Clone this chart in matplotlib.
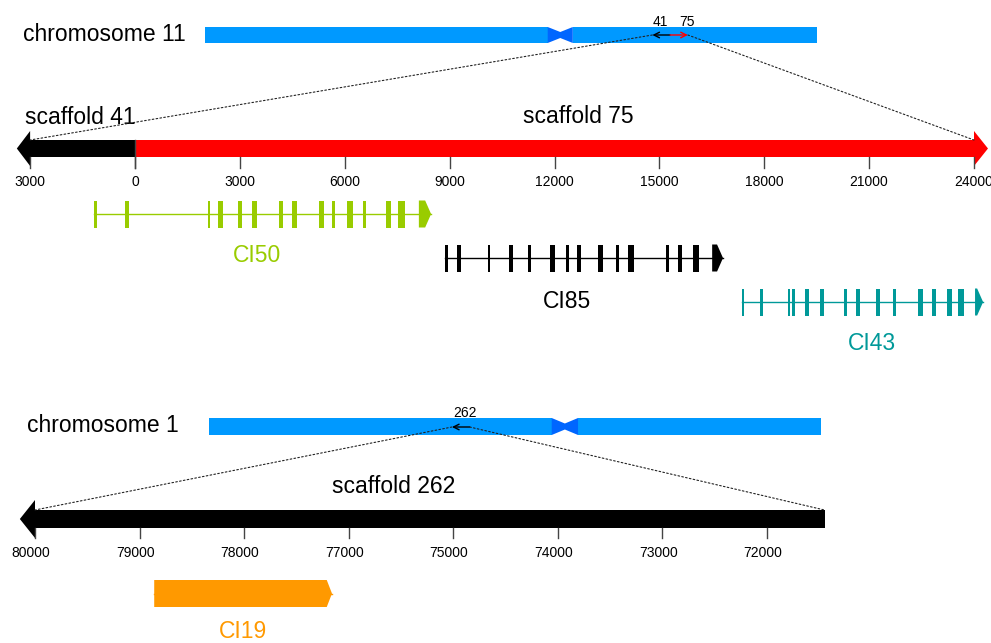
import numpy as np
import matplotlib
matplotlib.use('Agg')
import matplotlib.pyplot as plt
from matplotlib.patches import Polygon, Rectangle, ConnectionPatch

plt.rcParams['font.family'] = ['Liberation Sans', 'DejaVu Sans']

W, H = 991, 643

# chromosomes, positions as fraction of length
cen_11 = (0.560, 0.601)
cen_1 = (0.560, 0.603)
mark_11 = 0.760          # junction of scaffold 41 / 75
mark_1 = 0.426           # scaffold 262
mark_len = 0.029

# top scaffolds (bp); scaffold 41 runs backwards from 0
sc41 = (-3000, 0)
sc75 = (0, 24000)
top_ticks = np.arange(-3000, 24001, 3000)
top_tick_labels = [str(abs(t)) for t in top_ticks]

# bottom scaffold (bp, reversed)
sc262 = (80000, 72450)
bot_ticks = 80000 - 1000 * np.arange(8)
bot_tick_labels = ['80000', '79000', '78000', '77000', '75000', '74000', '73000', '72000']

# exons (start, end) in bp; the last one carries the arrow head
ci50_exons = [(-1170, -1090), (-290, -170), (2090, 2150), (2370, 2520), (2950, 3060),
              (3350, 3490), (4120, 4230), (4490, 4630), (5260, 5410), (5640, 5720),
              (6060, 6240), (6520, 6610), (7180, 7320), (7520, 7720), (8120, 8470)]
ci85_exons = [(8870, 8950), (9210, 9330), (10100, 10160), (10700, 10810), (11240, 11330),
              (11870, 12020), (12330, 12420), (12640, 12760), (13250, 13390), (13760, 13850),
              (14100, 14270), (15190, 15280), (15530, 15650), (15960, 16130), (16510, 16820)]
ci43_exons = [(17360, 17420), (17880, 17970), (18680, 18740), (18790, 18880), (19170, 19290),
              (19600, 19720), (20280, 20370), (20630, 20740), (21200, 21310), (21680, 21770),
              (22400, 22540), (22800, 22910), (23230, 23370), (23540, 23710), (24030, 24260)]
ci19 = (78860, 77160)

BLUE = '#0099ff'
CEN = '#0066ff'
GREEN = '#99cc00'
TEAL = '#009999'
ORANGE = '#ff9900'

fig = plt.figure(figsize=(W / 100, H / 100), dpi=100)
base = fig.add_axes([0, 0, 1, 1], label='base')
base.set_xlim(0, W)
base.set_ylim(H, 0)
base.axis('off')


def track(name, v0, p0, v1, p1):
    ax = fig.add_axes([0, 0, 1, 1], label=name)
    s = (p1 - p0) / (v1 - v0)
    left = v0 - p0 / s
    ax.set_xlim(left, left + W / s)
    ax.set_ylim(H, 0)
    ax.axis('off')
    ax.patch.set_visible(False)
    return ax


ax_c11 = track('c11', 0, 205, 1, 817)
ax_c1 = track('c1', 0, 209, 1, 821)
ax_top = track('top', 0, 135, 24000, 974)
ax_bot = track('bot', 80000, 35, 73000, 767)


def chromosome(ax, cen, y0, y1):
    ax.add_patch(Rectangle((0, y0), cen[0], y1 - y0, color=BLUE, lw=0))
    ax.add_patch(Rectangle((cen[1], y0), 1 - cen[1], y1 - y0, color=BLUE, lw=0))
    mid = (cen[0] + cen[1]) / 2
    ym = (y0 + y1) / 2
    ax.add_patch(Polygon([(cen[0], y0), (mid, ym - 3), (cen[1], y0), (cen[1], y1),
                          (mid, ym + 3), (cen[0], y1)], closed=True, color=CEN, lw=0))


def gene(ax, exons, y, color, h=27, head=170):
    ax.plot([exons[0][0], exons[-1][1]], [y, y], color=color, lw=1.0)
    for s, e in exons[:-1]:
        ax.add_patch(Rectangle((s, y - h / 2), e - s, h, color=color, lw=0))
    s, e = exons[-1]
    d = np.sign(e - s)
    b = e - d * head
    ax.add_patch(Polygon([(s, y - h / 2), (b, y - h / 2), (e, y), (b, y + h / 2), (s, y + h / 2)],
                         closed=True, color=color, lw=0))


def connect(axa, xa, ya, axb, xb, yb):
    fig.add_artist(ConnectionPatch((xa, ya), (xb, yb), coordsA=axa.transData, coordsB=axb.transData,
                                   ls=(0, (1.5, 2)), lw=0.8, color='#222222'))


# ---- top panel ----
chromosome(ax_c11, cen_11, 27, 43)
base.text(23, 41, 'chromosome 11', fontsize=16.5, va='baseline', ha='left')

ax_c11.annotate('', xy=(mark_11 - mark_len, 35), xytext=(mark_11, 35),
                arrowprops=dict(arrowstyle='->', color='k', lw=1, shrinkA=0, shrinkB=0))
ax_c11.annotate('', xy=(mark_11 + mark_len, 35), xytext=(mark_11, 35),
                arrowprops=dict(arrowstyle='->', color='red', lw=1, shrinkA=0, shrinkB=0))
ax_c11.text(mark_11 - 0.016, 26, '41', fontsize=10, ha='center', va='baseline')
ax_c11.text(mark_11 + 0.028, 26, '75', fontsize=10, ha='center', va='baseline')

# scaffold bars
y0, y1 = 140, 157
hl = 380
ax_top.add_patch(Rectangle((sc41[0], y0), sc41[1] - sc41[0], y1 - y0, color='k', lw=0))
ax_top.add_patch(Polygon([(sc41[0], 131), (sc41[0] - hl, 148.5), (sc41[0], 166)], color='k', lw=0))
ax_top.add_patch(Rectangle((sc75[0], y0), sc75[1] - sc75[0], y1 - y0, color='red', lw=0))
ax_top.add_patch(Polygon([(sc75[1], 131), (sc75[1] + 400, 148.5), (sc75[1], 166)], color='red', lw=0))
ax_top.plot([0, 0], [y0, 168], color='#444444', lw=1)
for t, lab in zip(top_ticks, top_tick_labels):
    ax_top.plot([t, t], [y1, 168], color='#444444', lw=1)
    ax_top.text(t, 186, lab, fontsize=10, ha='center', va='baseline')
ax_top.text(-1573, 124, 'scaffold 41', fontsize=16.5, ha='center', va='baseline')
ax_top.text(12673, 123, 'scaffold 75', fontsize=16.5, ha='center', va='baseline')

connect(ax_c11, mark_11 - mark_len, 35, ax_top, sc41[0], y0)
connect(ax_c11, mark_11 + mark_len, 35, ax_top, sc75[1], y0)

gene(ax_top, ci50_exons, 214, GREEN)
gene(ax_top, ci85_exons, 258, 'k')
gene(ax_top, ci43_exons, 302, TEAL)
ax_top.text(3490, 262, 'CI50', fontsize=16.5, ha='center', va='baseline', color=GREEN)
ax_top.text(12358, 308, 'CI85', fontsize=16.5, ha='center', va='baseline', color='k')
ax_top.text(21083, 350, 'CI43', fontsize=16.5, ha='center', va='baseline', color=TEAL)

# ---- bottom panel ----
chromosome(ax_c1, cen_1, 418, 435)
base.text(27, 432, 'chromosome 1', fontsize=16.5, va='baseline', ha='left')
ax_c1.annotate('', xy=(mark_1 - mark_len, 427), xytext=(mark_1, 427),
               arrowprops=dict(arrowstyle='->', color='k', lw=1, shrinkA=0, shrinkB=0))
ax_c1.text(mark_1 - 0.008, 417, '262', fontsize=10, ha='center', va='baseline')

b0, b1 = 510, 528
ax_bot.add_patch(Rectangle((sc262[1], b0), sc262[0] - sc262[1], b1 - b0, color='k', lw=0))
ax_bot.add_patch(Polygon([(sc262[0], 500), (sc262[0] + 145, 519), (sc262[0], 538)], color='k', lw=0))
for t, lab in zip(bot_ticks, bot_tick_labels):
    ax_bot.plot([t, t], [b1, 538], color='#444444', lw=1)
    ax_bot.text(t + 40, 557, lab, fontsize=10, ha='center', va='baseline')
ax_bot.text(76568, 493, 'scaffold 262', fontsize=16.5, ha='center', va='baseline')

connect(ax_c1, mark_1 - mark_len, 427, ax_bot, sc262[0], b0)
connect(ax_c1, mark_1, 427, ax_bot, sc262[1], b0)

gene(ax_bot, [ci19], 593.5, ORANGE, h=27, head=50)
ax_bot.text(78011, 638, 'CI19', fontsize=16.5, ha='center', va='baseline', color=ORANGE)

fig.savefig('out.png', dpi=100)
